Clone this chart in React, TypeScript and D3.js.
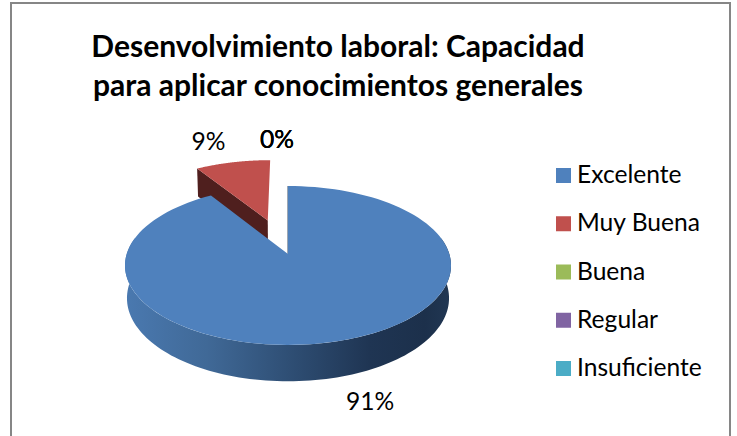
import React from "react";
import * as d3 from "d3";

const categories = ["Excelente", "Muy Buena", "Buena", "Regular", "Insuficiente"];
const values = [91, 9, 0, 0, 0];
const colors = ["#4f81bd", "#c0504d", "#9bbb59", "#8064a2", "#4bacc6"];
const titleLines = ["Desenvolvimiento laboral: Capacidad", "para aplicar conocimientos generales"];
const explode = [0, 0.48, 0, 0, 0];
const labelPos: [number, number][] = [[370, 410], [208.5, 150], [277, 148], [277, 148], [277, 148]];

const W = 737, H = 436;
const FONT = "Lato, Carlito, Calibri, sans-serif";

// perspective projection of the unit disc onto the page
const cx = 288, cy = 254, s = 161.3, b = 77.8, k = 0.1447, h = 32.6, m = 0.012;
function project(X: number, Y: number, z = 0): [number, number] {
  const d = 1 - k * Y + m * z;
  return [cx + (s * X) / d, cy + (b * Y + h * z) / d];
}
const onDisc = (a: number, ox = 0, oy = 0, z = 0) =>
  project(ox + Math.sin(a), oy - Math.cos(a), z);

const line = d3.line();
const rad = (deg: number) => (deg * Math.PI) / 180;

export default function App() {
  const arcs = d3.pie<number>().sort(null).startAngle(0).endAngle(2 * Math.PI)(values);
  const [blue, red] = arcs;
  const bisector = (red.startAngle + red.endAngle) / 2;
  const ox = explode[1] * Math.sin(bisector);
  const oy = -explode[1] * Math.cos(bisector);

  const sweep = (a0: number, a1: number, f: (a: number) => [number, number]) =>
    d3.range(0, 121).map((i) => f(a0 + ((a1 - a0) * i) / 120));

  const blueTop = [project(0, 0), ...sweep(blue.startAngle, blue.endAngle, (a) => onDisc(a))];
  const redTop = [project(ox, oy), ...sweep(red.startAngle, red.endAngle, (a) => onDisc(a, ox, oy))];
  const wallTop = sweep(rad(78), rad(282), (a) => onDisc(a));
  const wallBot = sweep(rad(78), rad(282), (a) => onDisc(a, 0, 0, 1));
  const wall = [...wallTop, ...wallBot.reverse()];
  const rA = onDisc(red.startAngle, ox, oy);
  const rC = project(ox, oy);
  const redCut = [rA, rC, project(ox, oy, 1), onDisc(red.startAngle, ox, oy, 1)];
  const blueCut = [project(0, 0), onDisc(0), onDisc(0, 0, 0, 1), project(0, 0, 1)];

  return (
    <svg width={W} height={H} viewBox={`0 0 ${W} ${H}`} style={{ position: "absolute", left: 0, top: 0, background: "#fff" }}>
      <defs>
        <linearGradient id="wallGrad" gradientUnits="userSpaceOnUse" x1="125" x2="451" y1="0" y2="0">
          <stop offset="0" stopColor="#4a79b0" />
          <stop offset="0.25" stopColor="#406997" />
          <stop offset="0.5" stopColor="#2f4f75" />
          <stop offset="0.75" stopColor="#1f3553" />
          <stop offset="0.92" stopColor="#1c304b" />
          <stop offset="1" stopColor="#213753" />
        </linearGradient>
      </defs>
      <rect x={11} y={3} width={719} height={H + 10} fill="#fff" stroke="#868686" strokeWidth={2} />
      <text fontFamily={FONT} fontWeight={700} fontSize={30} fill="#000" textAnchor="middle">
        {titleLines.map((t, i) => (
          <tspan key={t} x={338} y={57 + i * 39}>{t}</tspan>
        ))}
      </text>

      <path d={line(redCut)! + "Z"} fill="#4f1f1e" />
      <path d={line(redTop)! + "Z"} fill={colors[1]} />
      <path d={line(blueCut)! + "Z"} fill="#1f3553" stroke="#1f3553" strokeWidth={0.5} />
      <path d={line(wall)! + "Z"} fill="url(#wallGrad)" />
      <path d={line(blueTop)! + "Z"} fill={colors[0]} />

      {values.map((v, i) => (
        <text key={categories[i]} x={labelPos[i][0]} y={labelPos[i][1]} fontFamily={FONT} fontSize={24.6} textAnchor="middle" fill="#000">
          {`${v}%`}
        </text>
      ))}

      {categories.map((c, i) => {
        const y = 168 + i * 48.25;
        return (
          <g key={c}>
            <rect x={556} y={y} width={15} height={15} fill={colors[i]} />
            <text x={577} y={y + 15} fontFamily={FONT} fontSize={24.6} fill="#000">{c}</text>
          </g>
        );
      })}
    </svg>
  );
}
